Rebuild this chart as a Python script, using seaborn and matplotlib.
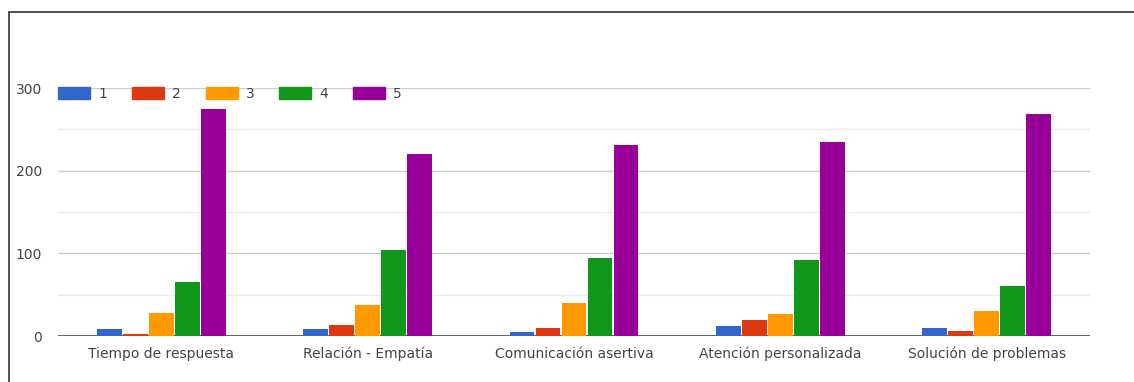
import matplotlib
matplotlib.use("Agg")
import matplotlib.pyplot as plt
import seaborn as sns
import pandas as pd
from matplotlib.patches import Patch
from matplotlib.ticker import MultipleLocator

categories = ["Tiempo de respuesta", "Relación - Empatía", "Comunicación asertiva",
              "Atención personalizada", "Solución de problemas"]
series_names = ["1", "2", "3", "4", "5"]
s1 = [9, 9, 5, 12, 10]
s2 = [3, 13, 10, 19, 6]
s3 = [28, 37, 40, 27, 30]
s4 = [65, 104, 94, 92, 61]
s5 = [274, 220, 231, 235, 268]
y_ticks = [0, 100, 200, 300]
colors = ["#3366cc", "#dc3912", "#ff9900", "#109618", "#990099"]

rows = []
for name, vals in zip(series_names, [s1, s2, s3, s4, s5]):
    for c, v in zip(categories, vals):
        rows.append({"categoria": c, "serie": name, "valor": v})
df = pd.DataFrame(rows)

sns.set_theme(style="white")
plt.rcParams["font.family"] = ["DejaVu Sans"]

W, H = 1134, 382
fig = plt.figure(figsize=(W / 100, H / 100), dpi=100)
ax = fig.add_axes([58 / W, 1 - 336 / H, (1090 - 58) / W, (336 - 88) / H])

ax.axhline(0, color="#555555", linewidth=1.3, zorder=1)
sns.barplot(data=df, x="categoria", y="valor", hue="serie", order=categories,
            hue_order=series_names, palette=colors, width=0.63, gap=0.04,
            saturation=1, ax=ax, legend=False, zorder=3, linewidth=0)

ax.set_ylim(0, 300)
ax.set_xlim(-0.5, len(categories) - 0.5)
ax.set_yticks(y_ticks)
ax.yaxis.set_minor_locator(MultipleLocator(50))
ax.grid(which="major", axis="y", color="#cccccc", linewidth=1)
ax.grid(which="minor", axis="y", color="#ebebeb", linewidth=1)
ax.set_axisbelow(True)
for s in ["top", "right", "left", "bottom"]:
    ax.spines[s].set_visible(False)
ax.set_xlabel("")
ax.set_ylabel("")
ax.tick_params(axis="both", which="both", length=0, labelsize=10, labelcolor="#444444")
ax.tick_params(axis="y", pad=11.5)
ax.tick_params(axis="x", pad=16)
for lab in ax.get_xticklabels():
    lab.set_verticalalignment("baseline")

handles = [Patch(facecolor=c, edgecolor=c) for c in colors]
fig.legend(handles, series_names, loc="center left",
           bbox_to_anchor=(58 / W, 1 - 94 / H), ncol=5, frameon=False,
           handlelength=2.3, handleheight=0.9, handletextpad=0.6,
           columnspacing=1.78, fontsize=10, labelcolor="#444444",
           borderaxespad=0, borderpad=0)

# outer frame (top and left edges visible)
fig.patches.append(plt.Rectangle((9 / W, -0.1), 1.2, 1 - 12.5 / H + 0.1,
                                 transform=fig.transFigure, fill=False,
                                 edgecolor="#333333", linewidth=1.2))

fig.savefig("out.png", dpi=100, facecolor="white")
